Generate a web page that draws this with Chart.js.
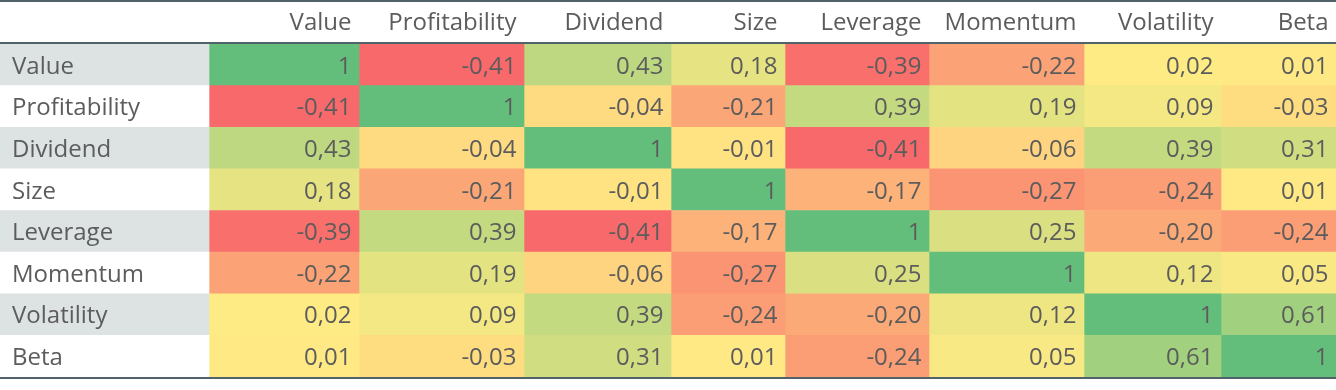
<!DOCTYPE html>
<html>
<head>
<meta charset="utf-8">
<script src="https://cdn.jsdelivr.net/npm/chart.js@4.4.1/dist/chart.umd.min.js"></script>
<style>
  html, body { margin: 0; padding: 0; background: #fff; }
</style>
</head>
<body>
<canvas id="corrChart" width="1336" height="390"></canvas>
<script>
// Factor names (rows and columns)
const factors = ['Value', 'Profitability', 'Dividend', 'Size', 'Leverage', 'Momentum', 'Volatility', 'Beta'];

// Correlation matrix, one array per row
const corrValue         = [1, -0.41, 0.43, 0.18, -0.39, -0.22, 0.02, 0.01];
const corrProfitability = [-0.41, 1, -0.04, -0.21, 0.39, 0.19, 0.09, -0.03];
const corrDividend      = [0.43, -0.04, 1, -0.01, -0.41, -0.06, 0.39, 0.31];
const corrSize          = [0.18, -0.21, -0.01, 1, -0.17, -0.27, -0.24, 0.01];
const corrLeverage      = [-0.39, 0.39, -0.41, -0.17, 1, 0.25, -0.20, -0.24];
const corrMomentum      = [-0.22, 0.19, -0.06, -0.27, 0.25, 1, 0.12, 0.05];
const corrVolatility    = [0.02, 0.09, 0.39, -0.24, -0.20, 0.12, 1, 0.61];
const corrBeta          = [0.01, -0.03, 0.31, 0.01, -0.24, 0.05, 0.61, 1];

const corrRows = [corrValue, corrProfitability, corrDividend, corrSize,
                  corrLeverage, corrMomentum, corrVolatility, corrBeta];

// Layout: column edges in px (label column first), table geometry
const colEdges = [0, 209, 359, 524, 671, 785, 929, 1084, 1221, 1336];
const HEADER_H = 44;
const TABLE_BOTTOM = 377;
const CELL_PAD = 7.5;
const FONT = '24px "Open Sans", "Noto Sans", sans-serif';
const TEXT_COLOR = '#5c5c5c';
const RULE_COLOR = '#52626b';

// Excel-like 3 colour scale (red - yellow - green, midpoint = median)
const RED = [248, 105, 107], YELLOW = [255, 235, 132], GREEN = [99, 190, 123];
const allVals = corrRows.flat().sort((a, b) => a - b);
const vMin = allVals[0];
const vMax = allVals[allVals.length - 1];
const vMid = (allVals[allVals.length / 2 - 1] + allVals[allVals.length / 2]) / 2;

function mix(a, b, t) {
    return 'rgb(' + a.map((c, i) => Math.round(c + (b[i] - c) * t)).join(',') + ')';
}
function cellColor(v) {
    if (v <= vMid) return mix(RED, YELLOW, (v - vMin) / (vMid - vMin));
    return mix(YELLOW, GREEN, (v - vMid) / (vMax - vMid));
}
function fmt(v) {
    return v === 1 ? '1' : v.toFixed(2).replace('.', ',');
}

// label column background + one dataset per matrix column
const datasets = [{
    data: factors.map(() => [colEdges[0], colEdges[1]]),
    backgroundColor: factors.map((_, i) => i % 2 === 0 ? '#dde2e2' : '#ffffff')
}];
factors.forEach((name, j) => {
    datasets.push({
        label: name,
        data: factors.map(() => [colEdges[j + 1], colEdges[j + 2]]),
        backgroundColor: corrRows.map(row => cellColor(row[j]))
    });
});

// Draws header, row labels, cell values and the table rules
const tableText = {
    id: 'tableText',
    afterDatasetsDraw(chart) {
        const { ctx, chartArea, scales: { x, y } } = chart;
        ctx.save();
        ctx.font = FONT;
        ctx.fillStyle = TEXT_COLOR;
        ctx.textBaseline = 'middle';

        // header
        ctx.textAlign = 'right';
        factors.forEach((name, j) => {
            ctx.fillText(name, x.getPixelForValue(colEdges[j + 2]) - CELL_PAD, 23);
        });

        factors.forEach((name, i) => {
            const yPix = y.getPixelForValue(i) + 2;
            ctx.textAlign = 'left';
            ctx.fillText(name, 12, yPix);
            ctx.textAlign = 'right';
            corrRows[i].forEach((v, j) => {
                ctx.fillText(fmt(v), x.getPixelForValue(colEdges[j + 2]) - CELL_PAD, yPix);
            });
        });

        // rules
        ctx.fillStyle = RULE_COLOR;
        ctx.fillRect(0, 0, chart.width, 2);
        ctx.fillRect(0, chartArea.top - 2, chart.width, 2);
        ctx.fillRect(0, chartArea.bottom, chart.width, 2);
        ctx.restore();
    }
};

new Chart(document.getElementById('corrChart'), {
    type: 'bar',
    data: { labels: factors, datasets: datasets },
    options: {
        indexAxis: 'y',
        responsive: false,
        animation: false,
        layout: { padding: { top: HEADER_H, bottom: 390 - TABLE_BOTTOM, left: 0, right: 0 } },
        datasets: {
            bar: { grouped: false, barPercentage: 1, categoryPercentage: 1, borderWidth: 0 }
        },
        scales: {
            x: { type: 'linear', min: colEdges[0], max: colEdges[colEdges.length - 1], display: false },
            y: { type: 'category', display: false }
        },
        plugins: {
            legend: { display: false },
            tooltip: { enabled: false }
        }
    },
    plugins: [tableText]
});
</script>
</body>
</html>
